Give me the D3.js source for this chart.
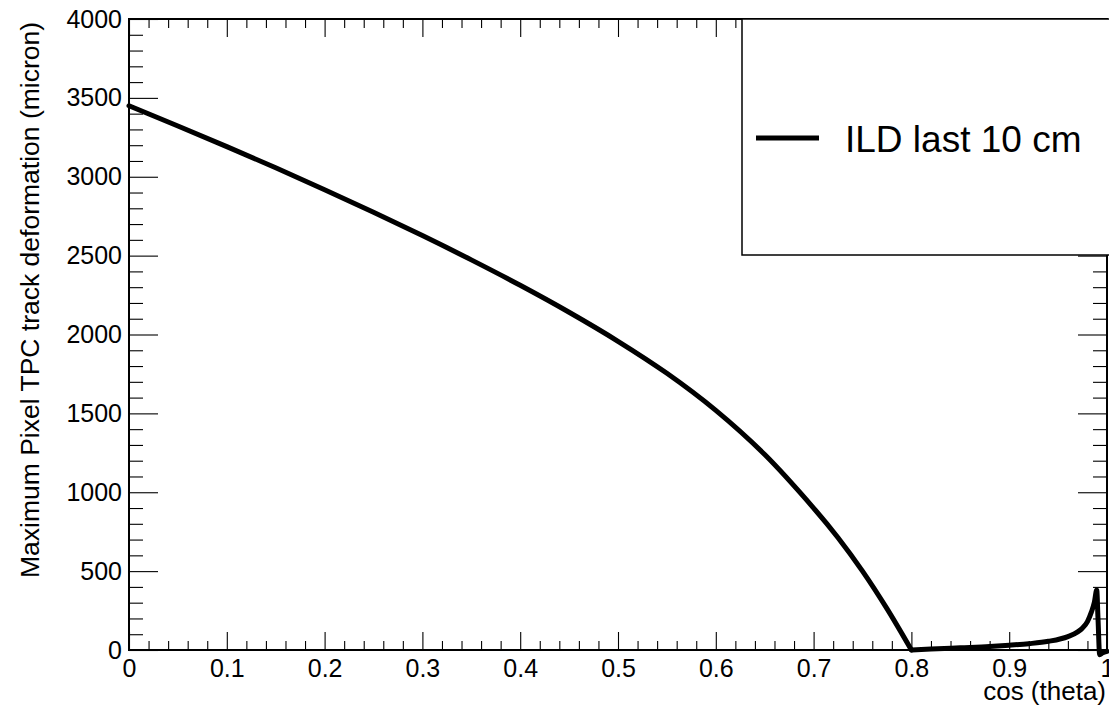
<!DOCTYPE html>
<html>
<head>
<meta charset="utf-8">
<script src="https://cdn.jsdelivr.net/npm/d3@7"></script>
<style>
  html, body { margin: 0; padding: 0; background: #fff; }
  svg { display: block; font-family: "Liberation Sans", Arial, Helvetica, sans-serif; }
</style>
</head>
<body>
<svg id="chart" width="1109" height="707"></svg>
<script>
// ---- data ----
const cosTheta = [0.00, 0.05, 0.10, 0.15, 0.20, 0.25, 0.30, 0.35, 0.40, 0.45, 0.50, 0.55, 0.60, 0.65, 0.70, 0.725, 0.75, 0.775, 0.80,
                  0.82, 0.85, 0.88, 0.90, 0.92, 0.94, 0.96, 0.97, 0.975, 0.98, 0.984, 0.987, 0.9895, 0.9908, 0.9925, 0.995, 1.00];
const deformation = [3450, 3322, 3191, 3057, 2918, 2775, 2627, 2473, 2312, 2141, 1957, 1754, 1519, 1239, 900, 712, 500, 262, 0,
                     6, 14, 22, 30, 40, 55, 85, 115, 140, 180, 240, 300, 380, 200, -30, -20, -8];
const seriesName = "ILD last 10 cm";
const xMajorTicks = [0, 0.1, 0.2, 0.3, 0.4, 0.5, 0.6, 0.7, 0.8, 0.9, 1];
const xTickLabels = ["0", "0.1", "0.2", "0.3", "0.4", "0.5", "0.6", "0.7", "0.8", "0.9", "1"];
const yMajorTicks = [0, 500, 1000, 1500, 2000, 2500, 3000, 3500, 4000];
const yTickLabels = ["0", "500", "1000", "1500", "2000", "2500", "3000", "3500", "4000"];
const xTitle = "cos (theta)";
const yTitle = "Maximum Pixel TPC track deformation (micron)";

// ---- layout ----
const L = 129, R = 1107, T = 19, B = 650;
const svg = d3.select("#chart");
svg.append("rect").attr("width", 1109).attr("height", 707).attr("fill", "#fff");

const x = d3.scaleLinear().domain([0, 1]).range([L, R]);
const y = d3.scaleLinear().domain([0, 4000]).range([B, T]);

const xMinor = d3.range(0, 51).map(i => i / 50).filter((v, i) => i % 5 !== 0);
const yMinor = d3.range(0, 41).map(i => i * 100).filter(v => v % 500 !== 0);

function styleAxis(g) {
  g.select(".domain").remove();
  g.selectAll(".tick line").attr("stroke", "#000").attr("stroke-width", 1.1);
  g.selectAll("text").attr("fill", "#000").attr("font-size", 25);
}

// bottom
svg.append("g").attr("transform", `translate(0,${B})`)
  .call(d3.axisBottom(x).tickValues(xMajorTicks).tickSize(-18).tickPadding(9)
        .tickFormat((d, i) => xTickLabels[i]))
  .call(styleAxis);
svg.append("g").attr("transform", `translate(0,${B})`)
  .call(d3.axisBottom(x).tickValues(xMinor).tickSize(-9).tickFormat(""))
  .call(styleAxis);
// top
svg.append("g").attr("transform", `translate(0,${T})`)
  .call(d3.axisTop(x).tickValues(xMajorTicks).tickSize(-18).tickFormat(""))
  .call(styleAxis);
svg.append("g").attr("transform", `translate(0,${T})`)
  .call(d3.axisTop(x).tickValues(xMinor).tickSize(-9).tickFormat(""))
  .call(styleAxis);
// left
svg.append("g").attr("transform", `translate(${L},0)`)
  .call(d3.axisLeft(y).tickValues(yMajorTicks).tickSize(-29).tickPadding(7)
        .tickFormat((d, i) => yTickLabels[i]))
  .call(styleAxis);
svg.append("g").attr("transform", `translate(${L},0)`)
  .call(d3.axisLeft(y).tickValues(yMinor).tickSize(-14).tickFormat(""))
  .call(styleAxis);
// right
svg.append("g").attr("transform", `translate(${R},0)`)
  .call(d3.axisRight(y).tickValues(yMajorTicks).tickSize(-29).tickFormat(""))
  .call(styleAxis);
svg.append("g").attr("transform", `translate(${R},0)`)
  .call(d3.axisRight(y).tickValues(yMinor).tickSize(-14).tickFormat(""))
  .call(styleAxis);

// frame
svg.append("rect").attr("x", L).attr("y", T).attr("width", R - L).attr("height", B - T)
  .attr("fill", "none").attr("stroke", "#000").attr("stroke-width", 2);

// curve: smooth falling branch up to 0.8, then the rising branch after it
const pts = cosTheta.map((c, i) => [c, deformation[i]]);
const falling = pts.filter(d => d[0] <= 0.8);
const rising = pts.filter(d => d[0] >= 0.8);
const lineSmooth = d3.line().x(d => x(d[0])).y(d => y(d[1])).curve(d3.curveCatmullRom.alpha(0.5));
const lineMono = d3.line().x(d => x(d[0])).y(d => y(d[1])).curve(d3.curveMonotoneX);
[[falling, lineSmooth], [rising, lineMono]].forEach(([data, gen]) => {
  svg.append("path")
    .datum(data)
    .attr("fill", "none")
    .attr("stroke", "#000")
    .attr("stroke-width", 5)
    .attr("stroke-linejoin", "round")
    .attr("stroke-linecap", "round")
    .attr("d", gen);
});

// legend
const lg = svg.append("g");
lg.append("rect").attr("x", 742).attr("y", T).attr("width", 400).attr("height", 255 - T)
  .attr("fill", "#fff").attr("stroke", "#000").attr("stroke-width", 1.5);
lg.append("line").attr("x1", 756).attr("x2", 819).attr("y1", 138).attr("y2", 138)
  .attr("stroke", "#000").attr("stroke-width", 5);
lg.append("text").attr("x", 845).attr("y", 152).attr("font-size", 37).attr("fill", "#000")
  .text(seriesName);

// axis titles
svg.append("text").attr("x", 1106).attr("y", 700).attr("text-anchor", "end")
  .attr("font-size", 26).attr("fill", "#000").text(xTitle);
svg.append("text").attr("transform", `translate(39,300) rotate(-90)`).attr("text-anchor", "middle")
  .attr("font-size", 26.5).attr("fill", "#000").text(yTitle);
</script>
</body>
</html>
